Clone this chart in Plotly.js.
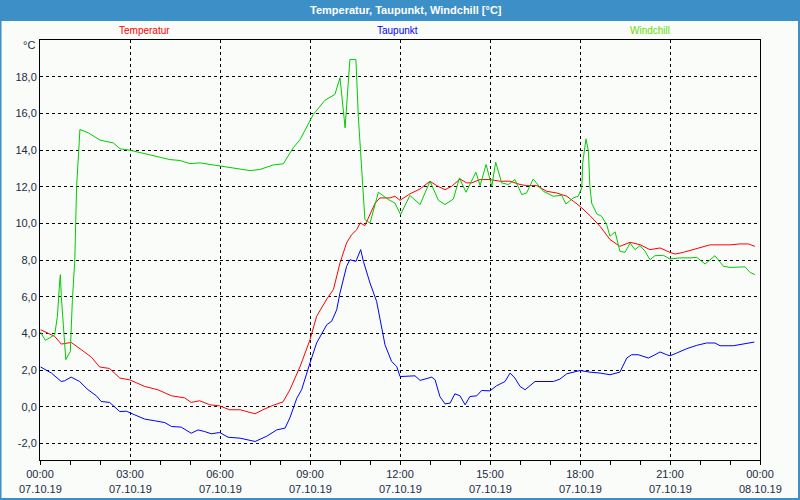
<!DOCTYPE html>
<html>
<head>
<meta charset="utf-8">
<script src="https://cdn.plot.ly/plotly-3.0.1.min.js"></script>
<style>html,body{margin:0;padding:0;background:#f9fcf9;}#chart{width:800px;height:500px;}</style>
</head>
<body>
<div id="chart"></div>
<script>
// Temperatur (hours since 07.10.19 00:00, °C)
var tempHours = [0.02,0.49,0.71,1.04,1.38,1.71,1.99,2.32,2.66,2.99,3.49,3.93,4.38,4.82,5.04,5.32,5.66,5.99,6.32,6.67,7.17,7.43,7.77,8.1,8.33,8.67,9.0,9.22,9.56,9.78,10.0,10.22,10.39,10.56,10.67,10.83,11.17,11.33,11.67,11.83,12.0,12.33,12.67,13.0,13.22,13.5,13.72,14.0,14.22,14.39,14.67,15.0,15.33,15.67,16.0,16.22,16.56,16.89,17.22,17.56,17.78,18.0,18.33,18.67,19.0,19.33,19.67,20.0,20.33,20.67,21.0,21.17,21.44,21.78,22.11,22.33,22.67,23.0,23.33,23.61,23.83];
var tempValues = [4.2,3.84,3.42,3.51,3.11,2.71,2.17,2.09,1.57,1.47,1.11,0.93,0.6,0.49,0.24,0.33,0.11,0.05,-0.16,-0.16,-0.38,-0.16,0.08,0.27,0.93,2.2,3.66,4.93,5.88,6.39,7.84,8.94,9.39,9.66,10.03,9.88,11.1,11.39,11.39,11.48,11.26,11.61,11.88,12.3,12.06,11.84,12.02,12.42,12.21,12.21,12.39,12.39,12.3,12.3,12.12,12.06,12.06,11.75,11.66,11.48,11.21,10.93,10.43,9.84,9.12,8.75,8.97,8.84,8.57,8.66,8.42,8.33,8.42,8.57,8.75,8.83,8.83,8.83,8.88,8.88,8.75];

// Taupunkt
var dewHours = [0.02,0.38,0.71,0.82,1.04,1.32,1.6,1.88,2.04,2.32,2.66,2.88,3.16,3.49,3.82,4.16,4.38,4.71,5.04,5.27,5.49,5.71,5.99,6.27,6.67,7.17,7.56,7.89,8.17,8.33,8.56,8.72,9.0,9.22,9.56,9.72,9.89,10.0,10.22,10.33,10.53,10.69,10.78,11.0,11.22,11.5,11.72,11.89,12.0,12.33,12.5,12.67,13.06,13.17,13.33,13.5,13.67,13.83,14.0,14.17,14.33,14.56,14.72,15.0,15.22,15.5,15.67,15.83,16.0,16.17,16.5,17.11,17.33,17.56,18.0,18.33,18.67,19.0,19.33,19.56,19.72,19.94,20.28,20.5,20.67,20.89,21.0,21.22,21.56,21.89,22.22,22.5,22.67,23.11,23.44,23.81];
var dewValues = [2.17,1.84,1.38,1.42,1.62,1.38,0.93,0.6,0.29,0.24,-0.26,-0.24,-0.44,-0.67,-0.76,-0.86,-1.07,-1.11,-1.44,-1.26,-1.35,-1.47,-1.4,-1.66,-1.71,-1.89,-1.6,-1.26,-1.16,-0.6,0.47,0.93,2.39,3.48,4.48,4.66,5.29,6.21,7.66,8.02,7.93,8.57,7.93,6.75,5.75,3.38,2.47,2.2,1.65,1.65,1.69,1.44,1.62,1.47,0.56,0.16,0.2,0.71,0.6,0.11,0.56,0.6,0.89,0.87,1.15,1.38,1.84,1.57,1.11,0.93,1.38,1.38,1.51,1.8,1.98,1.89,1.84,1.75,1.89,2.66,2.84,2.84,2.66,2.84,2.99,2.84,2.78,2.93,3.17,3.35,3.48,3.48,3.33,3.33,3.42,3.53];

// Windchill
var chillHours = [0.02,0.18,0.49,0.58,0.66,0.68,0.71,0.82,0.86,1.01,1.08,1.16,1.22,1.31,1.33,1.61,2.0,2.44,2.67,3.0,3.44,3.89,4.33,4.67,5.0,5.33,5.67,6.0,6.33,7.0,7.33,7.78,8.11,8.44,8.67,9.11,9.5,9.83,10.0,10.17,10.33,10.53,10.61,10.83,11.0,11.28,11.61,11.83,12.02,12.33,12.67,13.0,13.28,13.5,13.78,13.98,14.2,14.53,14.67,14.87,15.06,15.19,15.39,15.61,15.83,16.06,16.22,16.44,16.78,17.11,17.39,17.53,17.78,17.94,18.06,18.09,18.2,18.28,18.33,18.39,18.56,18.72,18.89,19.0,19.17,19.33,19.5,19.67,19.83,20.0,20.17,20.33,20.5,20.78,21.0,21.33,21.67,21.89,22.17,22.5,22.78,23.0,23.5,23.67,23.83];
var chillValues = [4.06,3.62,3.93,4.93,6.93,7.2,6.02,3.11,2.57,3.02,5.84,8.02,12.0,14.5,15.12,14.94,14.54,14.39,14.07,13.99,13.81,13.66,13.48,13.43,13.26,13.3,13.21,13.12,13.03,12.88,12.94,13.19,13.25,14.12,14.57,15.94,16.72,17.03,17.94,15.21,18.94,18.94,15.85,10.21,10.02,11.7,11.3,11.11,10.48,11.52,11.03,12.3,11.26,11.03,11.33,12.48,11.7,12.79,12.06,13.21,12.02,13.34,12.21,12.12,12.39,11.57,11.66,12.42,11.75,11.48,11.53,11.06,11.39,11.48,11.94,13.3,14.61,13.94,12.02,11.1,10.52,10.39,9.93,9.3,9.54,8.48,8.42,8.93,8.57,8.79,8.48,8.02,8.24,8.26,8.06,8.12,8.12,8.15,7.79,8.24,7.66,7.6,7.63,7.33,7.21];

var seriesNames = ["Temperatur", "Taupunkt", "Windchill"];
var xTickVals = [0,3,6,9,12,15,18,21,24];
var xTimeLabels = ["00:00","03:00","06:00","09:00","12:00","15:00","18:00","21:00","00:00"];
var xDateLabels = ["07.10.19","07.10.19","07.10.19","07.10.19","07.10.19","07.10.19","07.10.19","07.10.19","08.10.19"];
var yTickVals = [-2,0,2,4,6,8,10,12,14,16,18];
var yTickLabels = ["-2,0","0,0","2,0","4,0","6,0","8,0","10,0","12,0","14,0","16,0","18,0"];
var chartTitle = "Temperatur, Taupunkt, Windchill [°C]";
var unitLabel = "°C";

var W = 800, H = 500, L = 40, R = 40, T = 40, B = 40;
var pw = W - L - R, ph = H - T - B;
function px(x) { return (x - L) / pw; }
function py(y) { return (H - B - y) / ph; }

var FONT = "Liberation Sans, Arial, sans-serif";
var labelColor = "#1e2a44";

var traces = [
  {x: tempHours, y: tempValues, name: seriesNames[0], mode: "lines", line: {color: "#ff0000", width: 1}},
  {x: dewHours, y: dewValues, name: seriesNames[1], mode: "lines", line: {color: "#0000ff", width: 1}},
  {x: chillHours, y: chillValues, name: seriesNames[2], mode: "lines", line: {color: "#00cc00", width: 1}}
];

var annotations = [
  {text: "<b>" + chartTitle + "</b>", xref: "paper", yref: "paper", x: px(406), y: py(10), showarrow: false, font: {family: FONT, size: 11, color: "#ffffff"}, xanchor: "center", yanchor: "middle"},
  {text: seriesNames[0], xref: "paper", yref: "paper", x: px(144), y: py(30), showarrow: false, font: {family: FONT, size: 10, color: "#ff0000"}, xanchor: "center", yanchor: "middle"},
  {text: seriesNames[1], xref: "paper", yref: "paper", x: px(397), y: py(30), showarrow: false, font: {family: FONT, size: 10, color: "#0000ff"}, xanchor: "center", yanchor: "middle"},
  {text: seriesNames[2], xref: "paper", yref: "paper", x: px(650), y: py(30), showarrow: false, font: {family: FONT, size: 10, color: "#66dd00"}, xanchor: "center", yanchor: "middle"},
  {text: unitLabel, xref: "paper", yref: "paper", x: px(37), y: py(45), showarrow: false, font: {family: FONT, size: 11, color: labelColor}, xanchor: "right", yanchor: "middle"}
];
for (var i = 0; i < xTickVals.length; i++) {
  annotations.push({text: xDateLabels[i], xref: "x", yref: "paper", x: xTickVals[i], y: py(489), showarrow: false, font: {family: FONT, size: 11, color: labelColor}, xanchor: "center", yanchor: "middle"});
}

var shapes = [
  {type: "rect", xref: "paper", yref: "paper", x0: px(0), x1: px(800), y0: py(0), y1: py(21), fillcolor: "#3d90c7", line: {width: 0}, layer: "below"},
  {type: "rect", xref: "paper", yref: "paper", x0: px(0.5), x1: px(799), y0: py(0), y1: py(499), fillcolor: "rgba(0,0,0,0)", line: {width: 2, color: "#3d90c7"}}
];

var layout = {
  width: W, height: H,
  margin: {l: L, r: R, t: T, b: B, pad: 0},
  paper_bgcolor: "#f9fcf9",
  plot_bgcolor: "#f9fcf9",
  showlegend: false,
  separators: ",.",
  font: {family: FONT, size: 11, color: labelColor},
  xaxis: {
    range: [0, 24], tickvals: xTickVals, ticktext: xTimeLabels,
    showline: true, linecolor: "#000000", linewidth: 1, mirror: true,
    showgrid: true, gridcolor: "#000000", gridwidth: 1, griddash: "3px,3px",
    zeroline: false, ticks: "outside", ticklen: 4, tickcolor: "#000000",
    minor: {tick0: 0, dtick: 1, ticks: "outside", ticklen: 4, tickcolor: "#000000", showgrid: false},
    tickfont: {family: FONT, size: 11, color: labelColor}
  },
  yaxis: {
    range: [-2.9, 20], tickvals: yTickVals, ticktext: yTickLabels,
    showline: true, linecolor: "#000000", linewidth: 1, mirror: true,
    showgrid: true, gridcolor: "#000000", gridwidth: 1, griddash: "3px,3px",
    zeroline: false, ticks: "", 
    tickfont: {family: FONT, size: 11, color: labelColor}
  },
  annotations: annotations,
  shapes: shapes
};

Plotly.newPlot("chart", traces, layout, {displayModeBar: false, staticPlot: true});
</script>
</body>
</html>
